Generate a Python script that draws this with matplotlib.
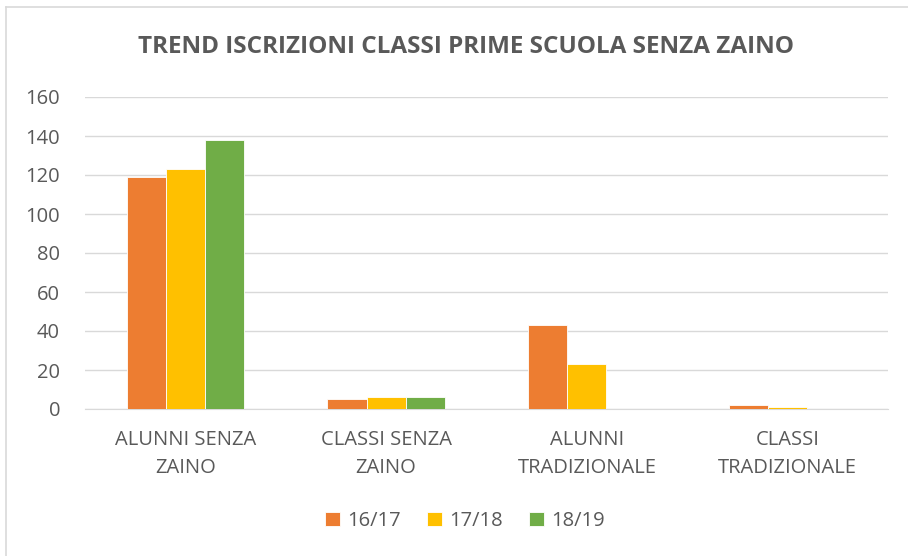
import matplotlib.pyplot as plt
import numpy as np
from matplotlib.lines import Line2D

categories = ["ALUNNI SENZA\nZAINO", "CLASSI SENZA\nZAINO", "ALUNNI\nTRADIZIONALE", "CLASSI\nTRADIZIONALE"]
series_names = ["16/17", "17/18", "18/19"]
values_1617 = [119, 5, 43, 2]
values_1718 = [123, 6, 23, 1]
values_1819 = [138, 6, 0, 0]
yticks = [0, 20, 40, 60, 80, 100, 120, 140, 160]

colors = ["#ED7D31", "#FFC000", "#70AD47"]
text_color = "#595959"
grid_color = "#D9D9D9"

plt.rcParams['font.family'] = ['Open Sans', 'DejaVu Sans']

fig = plt.figure(figsize=(9.08, 5.56), dpi=100)
ax = fig.add_axes([85 / 908, 147 / 556, 803 / 908, 312 / 556])

x = np.arange(len(categories))
w = 0.195
for i, vals in enumerate([values_1617, values_1718, values_1819]):
    ax.bar(x + (i - 1) * w, vals, width=w, color=colors[i], label=series_names[i],
           edgecolor="white", linewidth=0.6, zorder=3)

ax.set_xlim(-0.5, len(categories) - 0.5)
ax.set_ylim(0, 160)
ax.set_yticks(yticks)
ax.set_xticks(x)
ax.set_xticklabels(categories, fontsize=14.5, color=text_color, linespacing=1.55)
ax.tick_params(axis='y', labelsize=14.5, colors=text_color, length=0, pad=18)
ax.tick_params(axis='x', length=0, pad=15)
ax.grid(axis='y', color=grid_color, linewidth=1, zorder=0)
for s in ["top", "right", "left"]:
    ax.spines[s].set_visible(False)
ax.spines["bottom"].set_color(grid_color)

fig.text(0.513, 1 - 47 / 556, "TREND ISCRIZIONI CLASSI PRIME SCUOLA SENZA ZAINO",
         ha="center", va="center", fontsize=17.5, fontweight="bold", color=text_color)

ax.legend(loc="center", bbox_to_anchor=(465 / 908, 1 - 521 / 556), bbox_transform=fig.transFigure,
          ncol=3, frameon=False, fontsize=14.5, handlelength=0.75, handleheight=0.75,
          handletextpad=0.35, columnspacing=1.3, labelcolor=text_color)

fig.add_artist(Line2D([6 / 908, 6 / 908], [0, 1 - 7 / 556], color=grid_color, linewidth=1.2))
fig.add_artist(Line2D([6 / 908, 1], [1 - 7 / 556, 1 - 7 / 556], color=grid_color, linewidth=1.2))

fig.savefig("out.png", dpi=100, facecolor="white")
